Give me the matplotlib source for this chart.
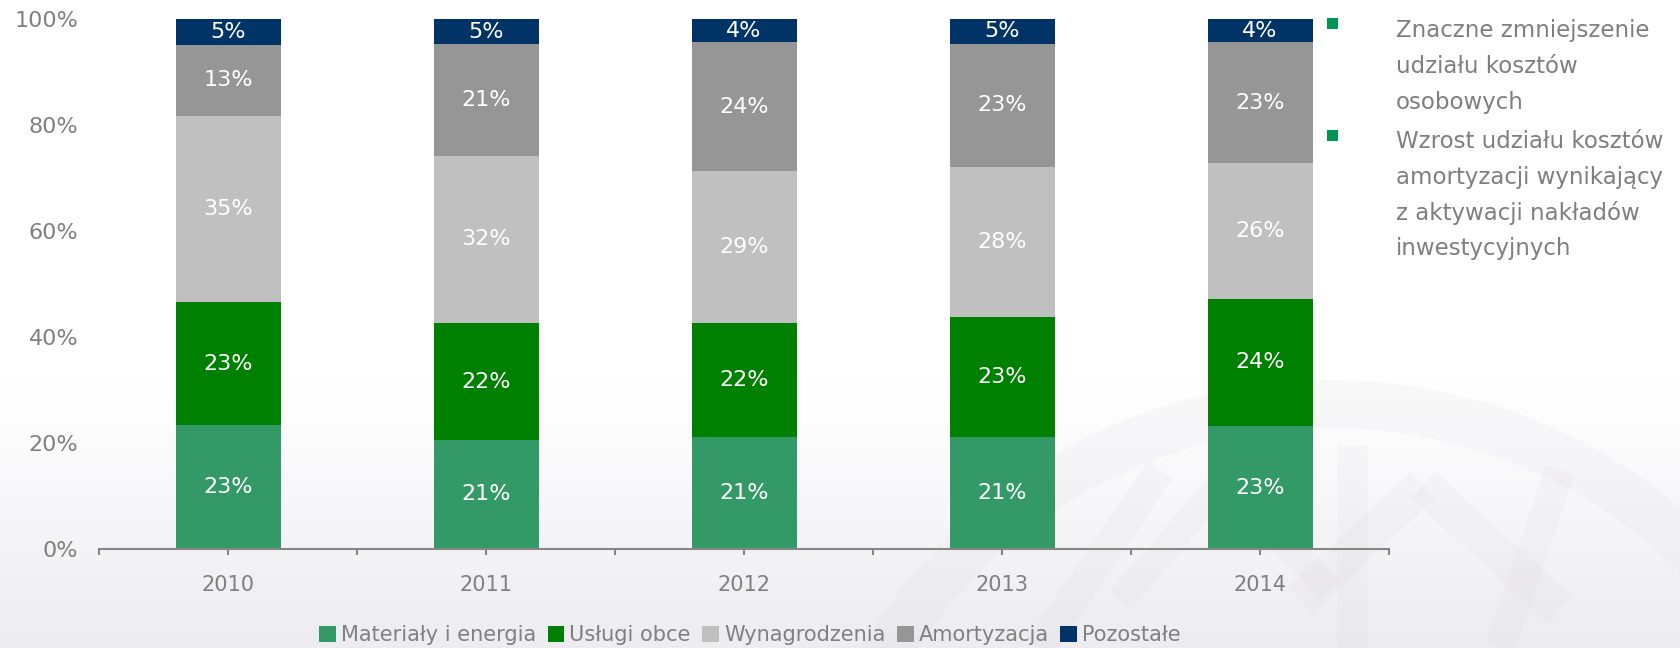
import numpy as np
import matplotlib
matplotlib.use("Agg")
import matplotlib.pyplot as plt
from matplotlib.patches import Rectangle, Patch, Wedge

plt.rcParams['font.family'] = ['DejaVu Sans']

years = ["2010", "2011", "2012", "2013", "2014"]
series_names = ["Materiały i energia", "Usługi obce", "Wynagrodzenia", "Amortyzacja", "Pozostałe"]
materialy = [23.4, 20.6, 21.1, 21.1, 23.2]
uslugi = [23.2, 22.0, 21.6, 22.6, 24.0]
wynagrodzenia = [35.1, 31.6, 28.6, 28.4, 25.6]
amortyzacja = [13.4, 21.0, 24.3, 23.2, 22.8]
pozostale = [4.9, 4.8, 4.4, 4.7, 4.4]
y_ticks = [0, 20, 40, 60, 80, 100]
notes = [
    ["Znaczne zmniejszenie", "udziału kosztów", "osobowych"],
    ["Wzrost udziału kosztów", "amortyzacji wynikający", "z aktywacji nakładów", "inwestycyjnych"],
]

colors = ["#339966", "#008000", "#C0C0C0", "#969696", "#003366"]
text_gray = "#808080"
axis_gray = "#868686"

W, H = 1680, 648
fig = plt.figure(figsize=(W / 100, H / 100), dpi=100)

# soft background wash fading in toward the bottom, with a faint emblem
bg = fig.add_axes([0, 0, 1, 1], zorder=-10)
rows = np.linspace(0, 1, 400)
t = np.clip((rows - 0.58) / 0.42, 0, 1) ** 1.2
top_c = np.array([1.0, 1.0, 1.0])
bot_c = np.array([236, 236, 241]) / 255
grad = (1 - t)[:, None] * top_c + t[:, None] * bot_c
bg.imshow(grad[:, None, :], aspect="auto", extent=[0, W, H, 0])
bg.set_xlim(0, W)
bg.set_ylim(H, 0)
bg.axis("off")

mark = dict(color="#D8D4DA", alpha=0.14, solid_capstyle="butt", zorder=1)
bg.add_patch(Wedge((1330, 925), 545, 180, 360, width=48, facecolor="#D8D4DA",
                   edgecolor="none", alpha=0.14, zorder=1))
bg.plot([1352, 1352], [445, H], lw=22, **mark)
bg.plot([1160, 1040], [470, H], lw=22, **mark)
bg.plot([1560, 1500], [470, H], lw=22, **mark)
bg.plot([1423, 1300], [485, 600], lw=26, **mark)
bg.plot([1423, 1560], [485, 610], lw=26, **mark)
bg.plot([1225, 1120], [480, 600], lw=20, **mark)
bg.plot([1225, 1330], [480, 590], lw=20, **mark)

ax = fig.add_axes([99 / W, 99 / H, 1290 / W, 530 / H])
ax.patch.set_alpha(0)

series = [materialy, uslugi, wynagrodzenia, amortyzacja, pozostale]
x = np.arange(len(years))
bottom = np.zeros(len(years))
for vals, col in zip(series, colors):
    vals = np.array(vals)
    ax.bar(x, vals, bottom=bottom, width=105 / 258, color=col, linewidth=0, zorder=2)
    for xi, b, v in zip(x, bottom, vals):
        ax.text(xi, b + v / 2, f"{int(round(v))}%", ha="center", va="center",
                color="white", fontsize=16, zorder=3)
    bottom += vals

ax.set_xlim(-0.5, len(years) - 0.5)
ax.set_ylim(0, 100)
for s in ["left", "top", "right"]:
    ax.spines[s].set_visible(False)
ax.spines["bottom"].set_color(axis_gray)
ax.spines["bottom"].set_linewidth(1.5)

ax.set_xticks(x)
ax.set_xticklabels(years)
ax.set_xticks(np.arange(-0.5, len(years), 1.0), minor=True)
ax.tick_params(axis="x", which="both", direction="out", length=4.5, width=1.5,
               color=axis_gray, labelcolor=text_gray, labelsize=15, pad=14)
ax.set_yticks(y_ticks)
ax.set_yticklabels([f"{v}%" for v in y_ticks])
ax.tick_params(axis="y", length=0, labelcolor=text_gray, labelsize=16, pad=15)

handles = [Patch(facecolor=c, edgecolor="none") for c in colors]
fig.legend(handles, series_names, loc="center", bbox_to_anchor=(750 / W, 1 - 635 / H),
           ncol=5, frameon=False, fontsize=15, handlelength=0.8, handleheight=0.8,
           handletextpad=0.25, columnspacing=0.55, labelcolor=text_gray, borderpad=0)

# commentary with green bullets on the right
baselines = [[36.7, 73.0, 108.5], [148.3, 184.3, 220.0, 255.5]]
bullet_tops = [18, 130]
for lines, bls, btop in zip(notes, baselines, bullet_tops):
    fig.add_artist(Rectangle((1327 / W, 1 - (btop + 11) / H), 11 / W, 11 / H,
                             transform=fig.transFigure, facecolor="#009650",
                             edgecolor="none"))
    for line, bl in zip(lines, bls):
        fig.text(1396 / W, 1 - bl / H, line, ha="left", va="baseline",
                 fontsize=16.5, color="#7F7F7F")

fig.savefig("out.png", dpi=100)
